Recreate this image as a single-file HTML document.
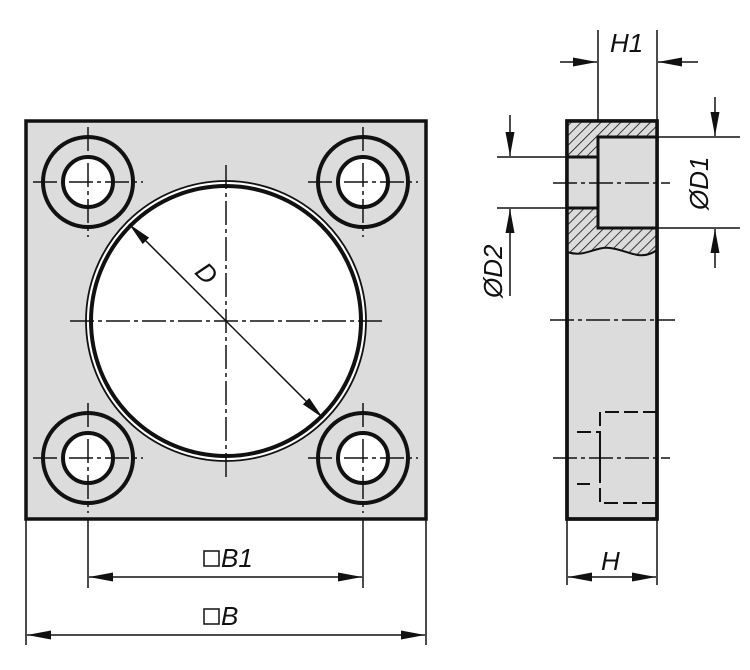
<!DOCTYPE html>
<html><head><meta charset="utf-8"><style>html,body{margin:0;padding:0;background:#fff}svg{display:block}text{font-family:"Liberation Sans",sans-serif;font-style:italic;font-size:26px;fill:#111}</style></head><body>
<svg width="750" height="670" viewBox="0 0 750 670" xmlns="http://www.w3.org/2000/svg">
<defs>
<pattern id="h" width="7" height="7" patternUnits="userSpaceOnUse" patternTransform="rotate(45)"><rect width="7" height="7" fill="#dcdcdc"/><line x1="0" y1="0" x2="0" y2="7" stroke="#111" stroke-width="1.6"/></pattern>
<marker id="a" viewBox="0 0 24 9" refX="24" refY="4.5" markerWidth="24" markerHeight="9" markerUnits="userSpaceOnUse" orient="auto-start-reverse"><path d="M0,0 L24,4.5 L0,9z" fill="#111" stroke="none"/></marker>
</defs>
<g stroke="#111" fill="none">
<rect x="26" y="121" width="400" height="398" fill="#dcdcdc" stroke-width="3.5"/>
<circle cx="226" cy="321" r="140" fill="#fff" stroke-width="1.8"/>
<circle cx="226" cy="321" r="135" stroke-width="4"/>
<g stroke-width="4">
<circle cx="88" cy="182" r="45"/><circle cx="88" cy="182" r="25" fill="#fff"/>
<circle cx="363" cy="182" r="45"/><circle cx="363" cy="182" r="25" fill="#fff"/>
<circle cx="88" cy="458" r="45"/><circle cx="88" cy="458" r="25" fill="#fff"/>
<circle cx="363" cy="458" r="45"/><circle cx="363" cy="458" r="25" fill="#fff"/>
</g>
<g stroke-width="1.5" stroke-dasharray="24,4,4,4">
<line x1="70" y1="321" x2="385" y2="321"/><line x1="226" y1="165" x2="226" y2="478"/>
<line x1="33" y1="182" x2="143" y2="182"/><line x1="88" y1="127" x2="88" y2="237"/>
<line x1="308" y1="182" x2="418" y2="182"/><line x1="363" y1="127" x2="363" y2="237"/>
<line x1="33" y1="458" x2="143" y2="458"/><line x1="88" y1="403" x2="88" y2="513"/>
<line x1="308" y1="458" x2="418" y2="458"/><line x1="363" y1="403" x2="363" y2="513"/>
</g>
<line x1="129" y1="224" x2="323" y2="418" stroke-width="1.5" marker-start="url(#a)" marker-end="url(#a)"/>
<g stroke-width="1.5">
<line x1="88" y1="520" x2="88" y2="588"/><line x1="363" y1="520" x2="363" y2="588"/>
<line x1="26" y1="520" x2="26" y2="645"/><line x1="426" y1="520" x2="426" y2="645"/>
<line x1="89" y1="577" x2="362" y2="577" marker-start="url(#a)" marker-end="url(#a)"/>
<line x1="27" y1="635" x2="425" y2="635" marker-start="url(#a)" marker-end="url(#a)"/>
</g>
<rect x="567" y="121" width="90" height="398" fill="#dcdcdc" stroke-width="3.5"/>
<path d="M567,121 H657 V250 C640,262 628,250 610,248 C595,246 585,258 567,252 Z" fill="url(#h)" stroke="none"/>
<path d="M567,252 C585,258 595,246 610,248 C628,250 640,262 657,250" stroke-width="2"/>
<rect x="598" y="137" width="59" height="91" fill="#dcdcdc" stroke-width="3"/>
<rect x="567" y="157" width="31" height="51" fill="#dcdcdc" stroke-width="3"/>
<rect x="567" y="121" width="90" height="398" stroke-width="3.5"/>
<g stroke-width="1.5" stroke-dasharray="24,4,4,4">
<line x1="553" y1="183" x2="670" y2="183"/>
<line x1="550" y1="320" x2="675" y2="320"/>
<line x1="553" y1="458" x2="670" y2="458"/>
</g>
<g stroke-width="2" stroke-dasharray="14,5">
<path d="M657,412 H600 V503 H657"/>
<path d="M577,432 H600 M577,484 H590"/>
<line x1="600" y1="445" x2="600" y2="470"/>
</g>
<g stroke-width="1.5">
<line x1="598" y1="30" x2="598" y2="121"/><line x1="657" y1="30" x2="657" y2="121"/>
<line x1="560" y1="62" x2="597" y2="62" marker-end="url(#a)"/><line x1="698" y1="62" x2="658" y2="62" marker-end="url(#a)"/>
<line x1="657" y1="137" x2="740" y2="137"/><line x1="657" y1="228" x2="740" y2="228"/>
<line x1="715" y1="97" x2="715" y2="136" marker-end="url(#a)"/><line x1="715" y1="268" x2="715" y2="229" marker-end="url(#a)"/>
<line x1="497" y1="157" x2="567" y2="157"/><line x1="497" y1="208" x2="567" y2="208"/>
<line x1="510" y1="115" x2="510" y2="156" marker-end="url(#a)"/><line x1="510" y1="296" x2="510" y2="209" marker-end="url(#a)"/>
<line x1="567" y1="520" x2="567" y2="585"/><line x1="657" y1="520" x2="657" y2="585"/>
<line x1="568" y1="577" x2="656" y2="577" marker-start="url(#a)" marker-end="url(#a)"/>
</g>
</g>
<text x="205" y="273" transform="rotate(45 205 273) translate(-8 8)">D</text>
<rect x="204" y="551" width="15" height="15" fill="none" stroke="#111" stroke-width="1.5"/><text x="221" y="567">B1</text>
<rect x="204" y="609" width="15" height="15" fill="none" stroke="#111" stroke-width="1.5"/><text x="221" y="625">B</text>
<text x="610" y="52">H1</text>
<text x="601" y="570">H</text>
<text transform="translate(708 210) rotate(-90)">ØD1</text>
<text transform="translate(502 298) rotate(-90)">ØD2</text>
</svg>
</body></html>
